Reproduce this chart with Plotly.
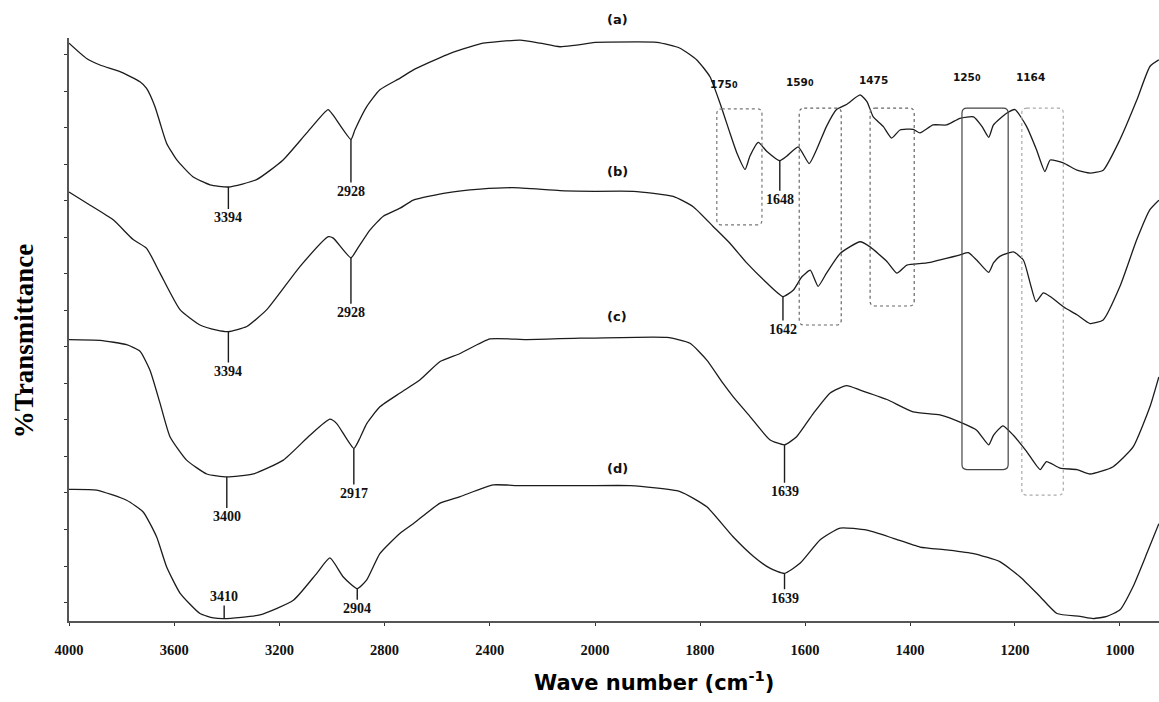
import numpy as np
import plotly.graph_objects as go

# ---------------- spectra (wavenumber in cm-1, transmittance in arbitrary %T units) ----------------
wn_a = [4000, 3933, 3882, 3806, 3730, 3705, 3673, 3654, 3629, 3590, 3529, 3464, 3394, 3287, 3186, 3096,
        3015, 2997, 2928, 2913, 2868, 2818, 2741, 2692, 2564, 2437, 2285, 2209, 2133, 2000,
        1882, 1838, 1806, 1781, 1762, 1743, 1730, 1714, 1705, 1689, 1673, 1648, 1635, 1613, 1592, 1578,
        1559, 1540, 1521, 1495, 1482, 1470, 1451, 1435, 1419, 1394, 1381, 1356, 1330, 1305, 1279, 1263,
        1250, 1241, 1216, 1200, 1178, 1159, 1143, 1133, 1108, 1082, 1057, 1032, 1000, 968, 943, 926]
t_a = [76.6, 74.5, 73.6, 72.7, 71.3, 70.4, 67.9, 65.7, 62.9, 60.6, 58.3, 57.2, 56.9, 57.9, 60.6, 64.3,
       67.5, 66.8, 63.4, 64.7, 67.9, 70.2, 71.8, 72.9, 75.0, 76.5, 77.0, 76.6, 76.1, 76.7,
       76.7, 75.9, 74.3, 72.0, 68.4, 64.3, 61.6, 59.3, 61.1, 63.0, 61.8, 60.5, 61.1, 62.4, 60.1, 62.0,
       65.2, 67.5, 68.2, 69.5, 68.6, 66.5, 65.2, 63.6, 64.7, 64.8, 64.3, 65.4, 65.4, 66.3, 66.5, 65.2,
       63.7, 65.4, 67.0, 67.5, 65.2, 62.0, 59.0, 60.6, 60.2, 59.2, 58.8, 59.2, 63.4, 68.8, 73.4, 74.3]

wn_b = [4000, 3933, 3832, 3756, 3705, 3654, 3578, 3502, 3438, 3394, 3324, 3248, 3122, 3014, 2995, 2928,
        2906, 2856, 2805, 2741, 2691, 2564, 2437, 2312, 2133, 2000,
        1927, 1851, 1813, 1775, 1743, 1711, 1679, 1642, 1622, 1606, 1590, 1575, 1559, 1533, 1495, 1476,
        1444, 1425, 1406, 1368, 1305, 1289, 1273, 1250, 1241, 1229, 1203, 1184, 1171, 1160, 1146, 1133,
        1108, 1082, 1057, 1032, 1000, 968, 943, 926]
t_b = [56.2, 54.7, 52.4, 49.7, 48.5, 45.1, 40.1, 38.0, 37.3, 37.1, 37.8, 40.1, 46.0, 50.1, 49.9, 47.2,
       48.3, 51.0, 52.9, 54.0, 55.1, 56.1, 56.6, 56.8, 56.4, 56.3,
       56.3, 55.6, 54.2, 51.5, 49.2, 46.5, 44.2, 41.9, 42.8, 44.6, 45.5, 43.3, 45.1, 47.8, 49.4, 48.7,
       46.7, 45.1, 46.2, 46.5, 47.6, 47.9, 46.9, 45.2, 46.5, 47.4, 48.0, 46.9, 43.7, 41.2, 42.4, 41.9,
       40.5, 39.4, 38.2, 38.7, 43.3, 49.7, 53.8, 55.1]

wn_c = [4000, 3882, 3781, 3730, 3692, 3654, 3616, 3553, 3476, 3400, 3299, 3185, 3084, 3008, 2982, 2917,
        2894, 2868, 2818, 2741, 2665, 2589, 2513, 2399, 2260, 2057, 2000,
        1863, 1819, 1787, 1756, 1737, 1705, 1667, 1639, 1616, 1584, 1552, 1521, 1495, 1444, 1394, 1343,
        1298, 1273, 1250, 1241, 1223, 1203, 1178, 1152, 1140, 1114, 1082, 1057, 1013, 975, 943, 926]
t_c = [36.0, 35.9, 35.3, 34.4, 31.8, 27.3, 22.7, 19.5, 17.6, 17.2, 17.6, 19.5, 22.9, 25.1, 24.5, 21.1,
       22.5, 24.5, 26.8, 28.7, 30.5, 33.0, 34.1, 36.1, 36.0, 36.2, 36.2,
       36.3, 35.5, 33.2, 30.0, 28.2, 25.5, 22.3, 21.6, 22.7, 25.9, 28.7, 29.7, 29.1, 27.8, 26.1, 25.7,
       24.5, 23.6, 21.6, 22.9, 24.2, 22.9, 20.7, 18.2, 19.3, 18.4, 18.2, 17.6, 18.6, 21.3, 26.8, 30.9]

wn_d = [4000, 3895, 3781, 3718, 3667, 3629, 3578, 3502, 3451, 3410, 3274, 3147, 3058, 3008, 2957, 2904,
        2868, 2818, 2741, 2691, 2589, 2513, 2387, 2285, 2000,
        1933, 1838, 1787, 1737, 1698, 1667, 1639, 1609, 1571, 1533, 1482, 1432, 1381, 1330, 1279, 1229,
        1190, 1152, 1120, 1076, 1051, 1025, 1000, 975, 949, 926]
t_d = [15.5, 15.4, 14.0, 12.4, 9.0, 4.9, 1.3, -1.5, -2.1, -2.2, -1.7, 0.3, 4.0, 6.1, 3.5, 1.9,
       3.1, 6.7, 9.5, 10.8, 13.6, 14.5, 16.1, 16.0, 16.0,
       16.0, 15.2, 13.1, 9.0, 6.3, 4.7, 4.0, 5.4, 8.6, 10.2, 9.9, 8.8, 7.6, 7.2, 6.7, 5.6,
       3.5, 0.8, -1.5, -1.9, -2.2, -1.9, -1.0, 2.2, 6.7, 10.8]

series = {"a": (wn_a, t_a), "b": (wn_b, t_b), "c": (wn_c, t_c), "d": (wn_d, t_d)}

# assigned band positions: (series, wavenumber label, vertical offset of label in px)
peaks = [
    ("a", 3394, 31), ("a", 2928, 52), ("a", 1648, 39),
    ("b", 3394, 40), ("b", 2928, 55), ("b", 1642, 33),
    ("c", 3400, 40), ("c", 2917, 45), ("c", 1639, 47),
    ("d", 3410, -22), ("d", 2904, 20), ("d", 1639, 25),
]

# highlighted regions:
# (header text, header wn, header %T, high wn, low wn, top %T, bottom %T, colour, dash)
regions = [
    ("175<span style='font-size:8px'>0</span>", 1754, 71.0, 1768, 1682, 67.6, 51.7, "#777", "dot"),
    ("159<span style='font-size:8px'>0</span>", 1609, 71.3, 1611, 1531, 67.7, 38.0, "#666", "dot"),
    ("1475", 1469, 71.6, 1476, 1392, 67.7, 40.6, "#666", "dot"),
    ("125<span style='font-size:8px'>0</span>", 1291, 72.0, 1301, 1213, 67.7, 18.2, "#444", "solid"),
    ("1164", 1170, 72.0, 1187, 1108, 67.7, 14.7, "#aaa", "dot"),
]

# spectrum tags: (text, %T position)
tags = [("(a)", 79.8), ("(b)", 59.0), ("(c)", 39.1), ("(d)", 18.3)]

left_ticks = [4000, 3600, 3200, 2800, 2400, 2000]
right_ticks = [1800, 1600, 1400, 1200, 1000]

# ---------------- layout constants ----------------
W, H = 1159, 702
ML, MR, MT, MB = 69, 0, 38, 81
SPLIT = 0.48257
YR = [-2.53, 77.3]
X2R = [2000, 925.7]
plot_w = W - ML - MR
plot_h = H - MT - MB
wn_per_px = (X2R[0] - X2R[1]) / (plot_w * (1 - SPLIT))
t_per_px = (YR[1] - YR[0]) / plot_h

LINE = "#1c1c1c"
SERIF = "Liberation Serif"
SANS = "DejaVu Sans"

fig = go.Figure()

for key, (wn, t) in series.items():
    wn = np.array(wn, dtype=float)
    t = np.array(t, dtype=float)
    hi = wn >= 2000
    lo = wn <= 2000
    fig.add_trace(go.Scatter(x=wn[hi], y=t[hi], mode="lines", xaxis="x", yaxis="y",
                             line=dict(color=LINE, width=1.3, shape="spline", smoothing=0.5),
                             hoverinfo="skip"))
    fig.add_trace(go.Scatter(x=wn[lo], y=t[lo], mode="lines", xaxis="x2", yaxis="y",
                             line=dict(color=LINE, width=1.3, shape="spline", smoothing=0.5),
                             hoverinfo="skip"))

annotations = []

# band markers: a short stem from the curve to the wavenumber label
for key, band, off in peaks:
    wn, t = series[key]
    yv = float(np.interp(band, wn[::-1], t[::-1]))
    annotations.append(dict(
        x=band, y=yv, xref="x" if band >= 2000 else "x2", yref="y",
        text=str(band), showarrow=True, arrowhead=0, arrowwidth=1.4, arrowcolor=LINE,
        ax=0, ay=off, standoff=0,
        font=dict(family=SERIF, size=14, color="#111", weight="bold"),
    ))

# rounded highlight boxes
shapes = []
r = 5
rx, ry = r * wn_per_px, r * t_per_px
for text, xlab, ylab, xl, xr, top, bot, col, dash in regions:
    path = (f"M {xl - rx},{top} L {xr + rx},{top} Q {xr},{top} {xr},{top - ry} "
            f"L {xr},{bot + ry} Q {xr},{bot} {xr + rx},{bot} "
            f"L {xl - rx},{bot} Q {xl},{bot} {xl},{bot + ry} "
            f"L {xl},{top - ry} Q {xl},{top} {xl - rx},{top} Z")
    shapes.append(dict(type="path", path=path, xref="x2", yref="y",
                       line=dict(color=col, width=1.2, dash=dash)))
    annotations.append(dict(
        x=xlab, y=ylab, xref="x2", yref="y", text=text, showarrow=False,
        xanchor="center", yanchor="middle",
        font=dict(family=SANS, size=10.5, color="#111", weight="bold"),
    ))

# spectrum tags, placed in paper space so the top one may sit above the axes
x_tag_px = 617
for tag, yv in tags:
    annotations.append(dict(
        x=(x_tag_px - ML) / plot_w, y=(yv - YR[0]) / (YR[1] - YR[0]),
        xref="paper", yref="paper", text=tag, showarrow=False,
        xanchor="center", yanchor="middle",
        font=dict(family=SANS, size=13, color="#111", weight="bold")))

# axis titles
annotations.append(dict(x=0.537, y=-0.103, xref="paper", yref="paper",
                        xanchor="center", yanchor="middle",
                        text="Wave number (cm<sup>-1</sup>)", showarrow=False,
                        font=dict(family=SANS, size=21, color="#000", weight="bold")))
annotations.append(dict(x=-0.0413, y=0.48, xref="paper", yref="paper", textangle=-90,
                        xanchor="center", yanchor="middle",
                        text="%Transmittance", showarrow=False,
                        font=dict(family=SERIF, size=27, color="#000", weight="bold")))

axis_common = dict(showgrid=False, zeroline=False, showline=True, linecolor="#555", linewidth=1.5,
                   ticks="outside", ticklen=3, tickcolor="#333", tickwidth=1.3,
                   tickfont=dict(family=SERIF, size=14.5, color="#111", weight="bold"),
                   ticklabelstandoff=12)

fig.update_layout(
    width=W, height=H,
    margin=dict(l=ML, r=MR, t=MT, b=MB, autoexpand=False),
    paper_bgcolor="white", plot_bgcolor="white",
    showlegend=False,
    xaxis=dict(domain=[0, SPLIT], range=[4000, 2000], tickvals=left_ticks, anchor="y", **axis_common),
    xaxis2=dict(domain=[SPLIT, 1], range=X2R, tickvals=right_ticks, anchor="y", **axis_common),
    yaxis=dict(range=YR, tick0=0, dtick=5, showticklabels=False, anchor="x",
               showgrid=False, zeroline=False, showline=True, linecolor="#555", linewidth=1.5,
               ticks="outside", ticklen=3, tickcolor="#333"),
    shapes=shapes,
    annotations=annotations,
)

fig.write_html("out.html")
